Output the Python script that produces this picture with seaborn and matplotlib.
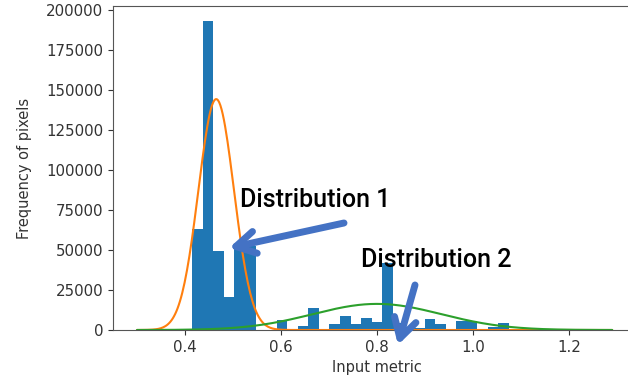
import numpy as np
import seaborn as sns
import matplotlib.pyplot as plt

# histogram: 30 bins
bin_start = 0.415
bin_width = 0.022
counts = [63300, 192700, 49100, 20700, 52500, 52500, 0, 0, 6300, 0,
          2500, 13600, 0, 3500, 8900, 3500, 7300, 4800, 41800, 4200,
          2000, 1500, 7100, 3600, 0, 5800, 5800, 0, 2100, 4200]

# fitted components (mean, sd, peak height)
dist1 = dict(mean=0.465, sd=0.037, peak=144200)
dist2 = dict(mean=0.800, sd=0.134, peak=16300)
curve_range = (0.30, 1.29)

sns.set_style('ticks')
plt.rcParams['font.family'] = ['DejaVu Sans']

W, H = 628, 381
fig = plt.figure(figsize=(W / 100, H / 100), dpi=100)
ax = fig.add_axes([113 / W, 51 / H, 528 / W, 324 / H])

n = len(counts)
centers = bin_start + bin_width * (np.arange(n) + 0.5)
sns.histplot(x=centers, weights=counts, bins=n,
             binrange=(bin_start, bin_start + n * bin_width),
             color='#1f77b4', alpha=1, linewidth=0, ax=ax)

xs = np.linspace(*curve_range, 400)
for d, c in [(dist1, '#ff7f0e'), (dist2, '#2ca02c')]:
    ys = d['peak'] * np.exp(-0.5 * ((xs - d['mean']) / d['sd']) ** 2)
    sns.lineplot(x=xs, y=ys, color=c, linewidth=1.5, ax=ax)

ax.set_xlim(0.25, 1.35)
ax.set_ylim(0, 202300)
ax.set_xticks([0.4, 0.6, 0.8, 1.0, 1.2])
ax.set_yticks(range(0, 200001, 25000))
ax.set_xlabel('Input metric', color='#333333', fontsize=10.5)
ax.set_ylabel('Frequency of pixels', color='#333333', fontsize=10.5)
ax.yaxis.set_label_coords(-0.153, 0.5)
ax.tick_params(colors='#333333', labelsize=10.8, length=3.5)
for s in ax.spines.values():
    s.set_visible(True)
    s.set_color('#555555')

# annotations (figure pixels, origin bottom-left)
blue = '#4472C4'
fig.text(240 / W, (H - 207) / H, 'Distribution 1', fontsize=18,
         family='Roboto', weight='medium', color='black',
         va='baseline', ha='left')
fig.text(361 / W, (H - 267) / H, 'Distribution 2', fontsize=18,
         family='Roboto', weight='medium', color='black',
         va='baseline', ha='left')
arrow = dict(arrowstyle='->,head_length=1.4,head_width=0.8', color=blue,
             lw=5, shrinkA=0, shrinkB=0)
ax.annotate('', xy=(229, 133), xytext=(344, 158), xycoords='figure pixels',
            textcoords='figure pixels', arrowprops=arrow, annotation_clip=False)
ax.annotate('', xy=(398, 36), xytext=(415, 96), xycoords='figure pixels',
            textcoords='figure pixels', arrowprops=arrow, annotation_clip=False)

fig.savefig('out.png', dpi=100)
